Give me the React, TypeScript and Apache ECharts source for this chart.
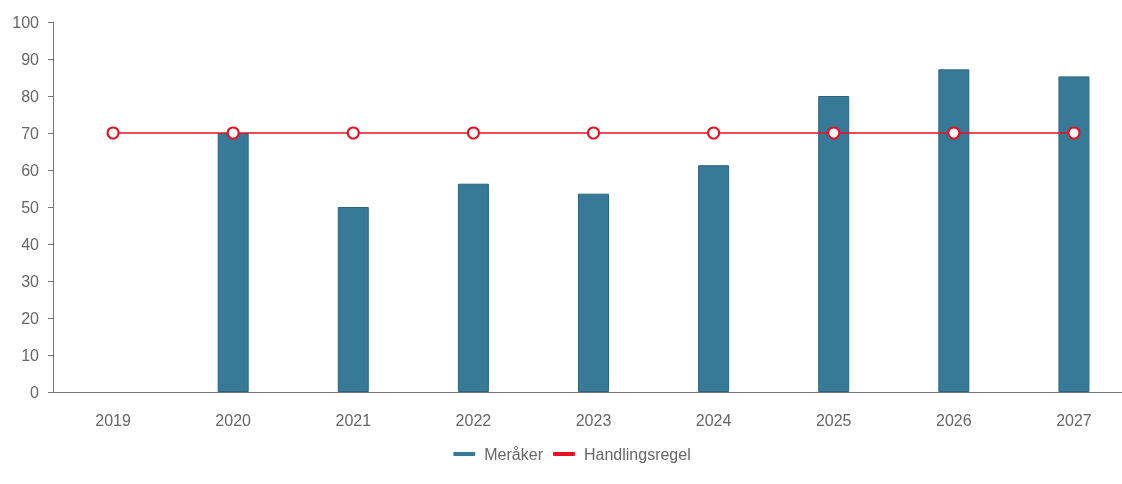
import React, { useEffect, useRef } from "react";
import * as echarts from "echarts";

const categories = ["2019", "2020", "2021", "2022", "2023", "2024", "2025", "2026", "2027"];
const meraker = [null, 70, 50, 56.3, 53.6, 61.3, 80, 87.2, 85.3];
const handlingsregel = [70, 70, 70, 70, 70, 70, 70, 70, 70];

export default function App() {
  const ref = useRef<HTMLDivElement>(null);
  useEffect(() => {
    document.body.style.margin = "0";
    const chart = echarts.init(ref.current!, null, { renderer: "svg" });
    chart.setOption({
      animation: false,
      textStyle: { fontFamily: "Liberation Sans, Arial, sans-serif" },
      grid: { left: 53, right: 10, top: 22, bottom: 92 },
      legend: {
        bottom: 17,
        left: "center",
        itemWidth: 22,
        itemHeight: 4,
        itemGap: 10,
        icon: "roundRect",
        itemStyle: { borderWidth: 0 },
        textStyle: { color: "#666", fontSize: 16, padding: [0, 0, 0, 4] },
        data: ["Meråker", "Handlingsregel"],
      },
      xAxis: {
        type: "category",
        data: categories,
        axisLine: { lineStyle: { color: "#777" } },
        axisTick: { lineStyle: { color: "#777" }, length: 5 },
        axisLabel: { color: "#666", fontSize: 16, margin: 20 },
      },
      yAxis: {
        type: "value",
        min: 0,
        max: 100,
        interval: 10,
        axisLine: { show: true, lineStyle: { color: "#777" } },
        axisTick: { show: true, lineStyle: { color: "#777" }, length: 5 },
        splitLine: { show: false },
        axisLabel: { color: "#666", fontSize: 16, margin: 14 },
      },
      series: [
        {
          name: "Meråker",
          type: "bar",
          data: meraker,
          barWidth: 31,
          itemStyle: { color: "#367a98", borderColor: "#2b6480", borderWidth: 1 },
        },
        {
          name: "Handlingsregel",
          type: "line",
          data: handlingsregel,
          color: "#e8101e",
          symbol: "emptyCircle",
          symbolSize: 11,
          lineStyle: { width: 1.5, color: "#e8101e" },
          itemStyle: { color: "#e8101e", borderWidth: 2.5, borderColor: "#e8101e" },
        },
      ],
    });
    return () => chart.dispose();
  }, []);
  return (
    <div style={{ position: "fixed", left: 0, top: 0, width: 1122, height: 484, overflow: "hidden" }}>
      <div ref={ref} style={{ width: 1144, height: 484 }} />
    </div>
  );
}
